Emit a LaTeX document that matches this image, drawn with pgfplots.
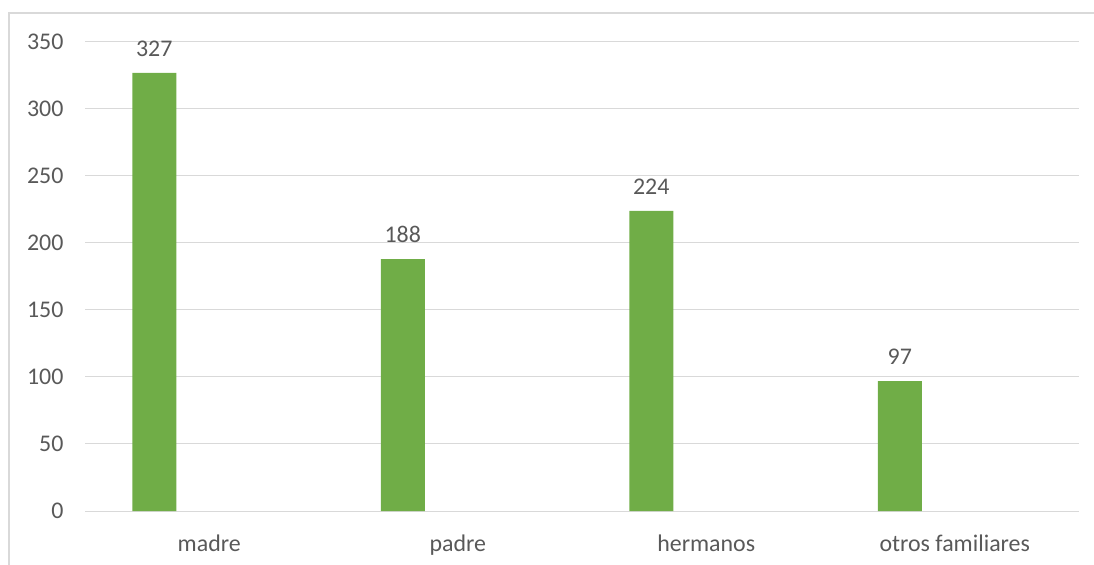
\documentclass[border=0pt]{standalone}
\usepackage{pgfplots}
\pgfplotsset{compat=1.18}
\usepackage{fontspec}
\setmainfont{Carlito}
\definecolor{barGreen}{HTML}{70AD47}
\definecolor{txtGray}{HTML}{595959}
\definecolor{gridGray}{HTML}{D9D9D9}
\definecolor{frameGray}{HTML}{D9D9D9}

\begin{document}
\begin{tikzpicture}
  \useasboundingbox (0,0) rectangle (1094bp,565bp);
  % outer chart frame (only left and top edges fall inside the picture)
  \draw[frameGray, line width=2.5bp] (9bp,0) -- (9bp,552bp) -- (1100bp,552bp);
  \begin{axis}[
    at={(85bp,54bp)}, anchor=south west,
    scale only axis,
    width=994bp, height=469bp,
    ymin=0, ymax=350,
    ytick={0,50,...,350},
    xmin=-0.5, xmax=3.5,
    xtick={0,1,2,3},
    xticklabels={madre,padre,hermanos,otros familiares},
    axis line style={draw=none},
    major tick length=0pt,
    ymajorgrids,
    grid style={gridGray, line width=1bp},
    font=\fontsize{24}{28}\selectfont,
    tick label style={txtGray},
    /pgf/number format/assume math mode=true,
    yticklabel style={anchor=east, xshift=-18bp},
    xticklabel style={anchor=base, yshift=-40bp},
    ybar, bar width=44bp, bar shift=-55bp,
    nodes near coords,
    every node near coord/.append style={txtGray, anchor=south, yshift=13bp},
    clip=false,
  ]
    \addplot[draw=none, fill=barGreen] coordinates {
      (0,327) (1,188) (2,224) (3,97)
    };
  \end{axis}
\end{tikzpicture}
\end{document}
